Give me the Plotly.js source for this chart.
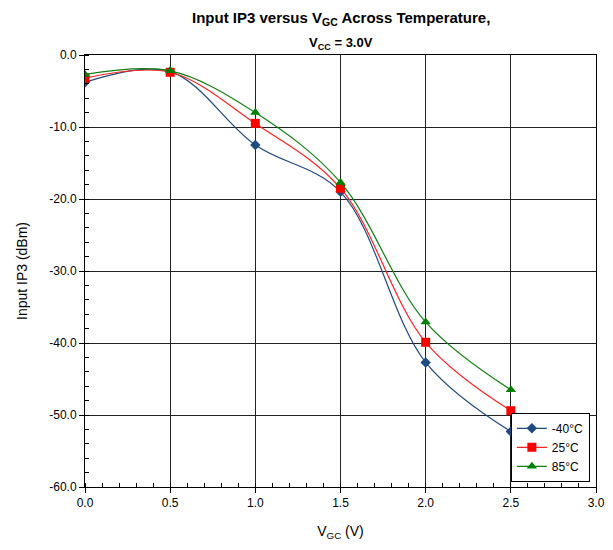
<!DOCTYPE html>
<html>
<head>
<meta charset="utf-8">
<script src="https://cdn.plot.ly/plotly-3.0.1.min.js"></script>
<style>html,body{margin:0;padding:0;background:#fff;}#chart{width:613px;height:550px;}</style>
</head>
<body>
<div id="chart"></div>
<script>
const vgc = [0.0, 0.5, 1.0, 1.5, 2.0, 2.5];
const seriesNames = ["-40°C", "25°C", "85°C"];
const ip3Minus40 = [-3.8, -2.3, -12.5, -19.0, -42.7, -52.3];
const ip3Plus25 = [-3.2, -2.4, -9.5, -18.5, -39.9, -49.4];
const ip3Plus85 = [-2.7, -2.2, -8.0, -17.7, -37.1, -46.5];
const xTickVals = [0.0, 0.5, 1.0, 1.5, 2.0, 2.5, 3.0];
const yTickVals = [0, -10, -20, -30, -40, -50, -60];

const font = "Liberation Sans, Arial, sans-serif";
const styles = [
  {color: "#1F4A80", line: "#1F4A80", symbol: "diamond", size: 8},
  {color: "#FF0000", line: "#FF2020", symbol: "square", size: 9},
  {color: "#008000", line: "#108010", symbol: "triangle-up", size: 9}
];
const ys = [ip3Minus40, ip3Plus25, ip3Plus85];
const traces = ys.map((y, i) => ({
  x: vgc, y: y, name: seriesNames[i], type: "scatter", mode: "lines+markers",
  line: {color: styles[i].line, width: 1.2, shape: "spline", smoothing: 1},
  marker: {color: styles[i].color, symbol: styles[i].symbol, size: styles[i].size}
}));

const layout = {
  width: 613, height: 550,
  margin: {l: 85, r: 17, t: 55, b: 63},
  paper_bgcolor: "#fff", plot_bgcolor: "#fff",
  font: {family: font, color: "#000", size: 12},
  annotations: [
    {text: "<b>Input IP3 versus V<sub>GC</sub> Across Temperature,</b>", xref: "paper", yref: "paper",
     x: 0.5, y: 1, yshift: 37, xanchor: "center", yanchor: "middle", showarrow: false,
     font: {family: font, size: 15, color: "#000"}},
    {text: "<b>V<sub>CC</sub> = 3.0V</b>", xref: "paper", yref: "paper",
     x: 0.5, y: 1, yshift: 12, xanchor: "center", yanchor: "middle", showarrow: false,
     font: {family: font, size: 13, color: "#000"}}
  ],
  xaxis: {
    range: [0, 3], tickvals: xTickVals, ticktext: xTickVals.map(v => v.toFixed(1)),
    showline: true, linecolor: "#000", linewidth: 1, mirror: true,
    ticks: "outside", ticklen: 5, tickcolor: "#000",
    showgrid: true, gridcolor: "#222", gridwidth: 1, zeroline: false,
    minor: {dtick: 0.1, tick0: 0, ticks: "inside", ticklen: 4, tickcolor: "#000", showgrid: false},
    tickfont: {size: 12, family: font},
    title: {text: "V<sub>GC</sub> (V)", font: {size: 14, family: font}, standoff: 16}
  },
  yaxis: {
    range: [-60, 0], tickvals: yTickVals, ticktext: yTickVals.map(v => v.toFixed(1)),
    showline: true, linecolor: "#000", linewidth: 1, mirror: true,
    ticks: "outside", ticklen: 5, tickcolor: "#000",
    showgrid: true, gridcolor: "#222", gridwidth: 1, zeroline: false,
    minor: {dtick: 2, tick0: 0, ticks: "inside", ticklen: 4, tickcolor: "#000", showgrid: false},
    tickfont: {size: 12, family: font},
    title: {text: "Input IP3 (dBm)", font: {size: 14, family: font}, standoff: 18}
  },
  legend: {
    x: 0.988, xanchor: "right", y: 0.012, yanchor: "bottom",
    bgcolor: "#fff", bordercolor: "#000", borderwidth: 1,
    font: {size: 12, family: font}, tracegroupgap: 0, itemwidth: 30
  },
  showlegend: true
};
Plotly.newPlot("chart", traces, layout, {displayModeBar: false, staticPlot: true});
</script>
</body>
</html>
